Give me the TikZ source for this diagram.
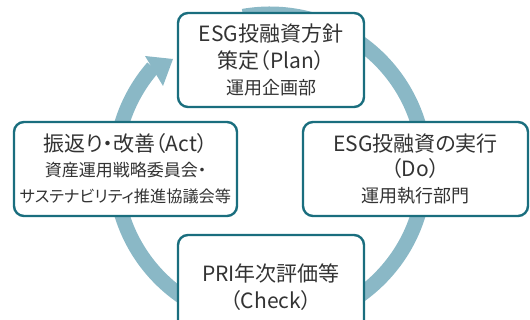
\documentclass[tikz,border=0pt]{standalone}
\usepackage{fontspec}
\setmainfont{Noto Sans CJK JP}[CharacterWidth=AlternateProportional]
\definecolor{boxc}{HTML}{1A6E7E}
\definecolor{ringc}{HTML}{8AB8C6}
\definecolor{txt}{HTML}{333333}
\begin{document}
\begin{tikzpicture}[x=1pt,y=1pt,
  box/.style={draw=boxc, line width=2.4pt, rounded corners=10pt, fill=white,
    text=txt, align=center, inner sep=0pt},
  big/.style={font=\fontsize{21}{27}\selectfont},
  ringline/.style={draw=ringc, line width=15pt}]
\useasboundingbox (0,0) rectangle (530,320);
\coordinate (ctr) at (270,151);
\draw[ringline] (ctr) ++(139:155) arc[start angle=139, end angle=460, radius=155];
\fill[ringc] (173,261) -- (145,264) -- (163,234) -- cycle;
\node[box, big, minimum width=186pt, minimum height=94pt] (plan) at (271,260)
  {ESG投融資方針\\ 策定（Plan）\\[-1pt] {\fontsize{18}{24}\selectfont 運用企画部}};
\node[box, big, minimum width=223pt, minimum height=94pt] (act) at (125.5,151)
  {振返り・改善（Act）\\[-2pt] {\fontsize{17}{22}\selectfont 資産運用戦略委員会・}\\[-1pt]
   {\fontsize{16.2}{22}\selectfont サステナビリティ推進協議会等}};
\node[box, big, minimum width=225pt, minimum height=94pt] (do) at (415.5,151)
  {ESG投融資の実行\\[-2pt] （Do）\\[-1pt] {\fontsize{18}{24}\selectfont 運用執行部門}};
\node[box, big, minimum width=186pt, minimum height=104pt] (check) at (271,283-250)
  {PRI年次評価等\\ （Check）};
\end{tikzpicture}
\end{document}
